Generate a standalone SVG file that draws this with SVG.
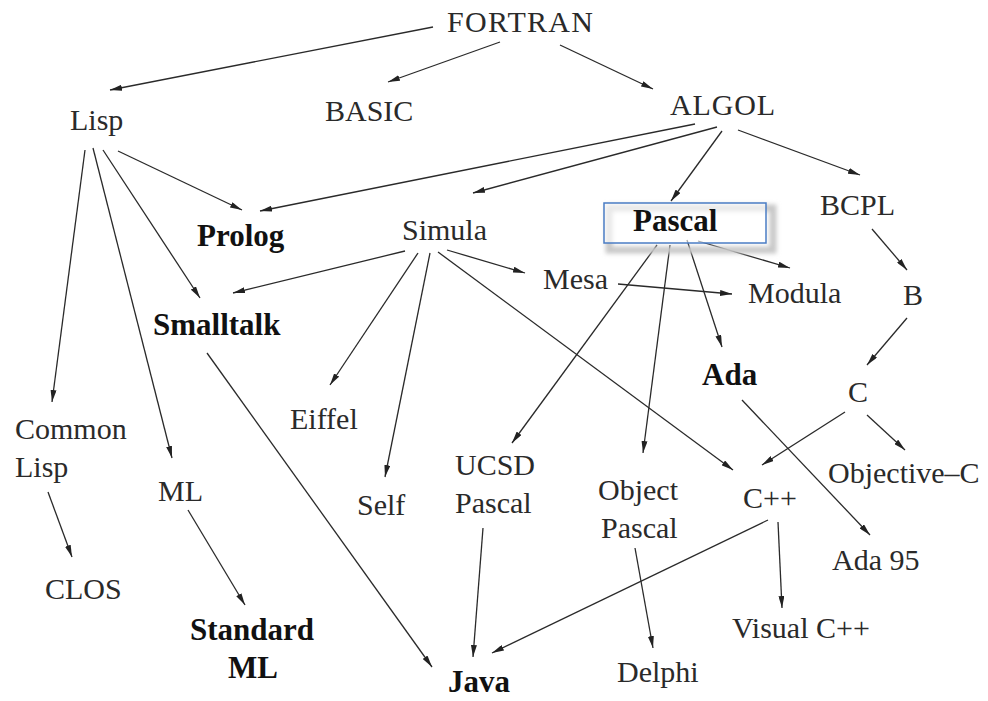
<svg xmlns="http://www.w3.org/2000/svg" width="988" height="701" viewBox="0 0 988 701">
<style>
text{font-family:"Liberation Serif","Times New Roman",serif;font-size:30px;fill:#2a2a2a}
.b{font-weight:bold;fill:#111;font-size:31px}
.e{fill:none;stroke:#2a2a2a;stroke-width:1.3;marker-end:url(#ah)}
</style>
<defs>
<marker id="ah" viewBox="0 0 12 6" refX="12" refY="3" markerWidth="12" markerHeight="6" markerUnits="userSpaceOnUse" orient="auto">
<path d="M0,0 L12,3 L0,6 Z" fill="#222"/>
</marker>
<filter id="sh" x="-20%" y="-50%" width="140%" height="200%"><feGaussianBlur stdDeviation="2"/></filter>
</defs>
<rect width="988" height="701" fill="#fff"/>
<g id="connectors">
<line class="e" x1="433" y1="27" x2="110" y2="90"/>
<line class="e" x1="500" y1="42" x2="388" y2="82"/>
<line class="e" x1="560" y1="45" x2="653" y2="89"/>
<line class="e" x1="695" y1="124" x2="260" y2="211"/>
<line class="e" x1="717" y1="127" x2="473" y2="193"/>
<line class="e" x1="722" y1="131" x2="671" y2="201"/>
<line class="e" x1="738" y1="130" x2="860" y2="175"/>
<line class="e" x1="118" y1="151" x2="242" y2="210"/>
<line class="e" x1="103" y1="150" x2="200" y2="298"/>
<line class="e" x1="85" y1="150" x2="52" y2="402"/>
<line class="e" x1="93" y1="148" x2="172" y2="458"/>
<line class="e" x1="405" y1="251" x2="233" y2="293"/>
<line class="e" x1="418" y1="253" x2="330" y2="385"/>
<line class="e" x1="430" y1="253" x2="385" y2="477"/>
<line class="e" x1="447" y1="250" x2="525" y2="273"/>
<line class="e" x1="438" y1="252" x2="733" y2="470"/>
<line class="e" x1="698" y1="241" x2="790" y2="268"/>
<line class="e" x1="618" y1="284" x2="732" y2="294"/>
<line class="e" x1="657" y1="245" x2="512" y2="443"/>
<line class="e" x1="670" y1="245" x2="643" y2="453"/>
<line class="e" x1="687" y1="240" x2="722" y2="347"/>
<line class="e" x1="872" y1="229" x2="907" y2="270"/>
<line class="e" x1="907" y1="318" x2="867" y2="365"/>
<line class="e" x1="845" y1="412" x2="762" y2="465"/>
<line class="e" x1="867" y1="415" x2="905" y2="450"/>
<line class="e" x1="742" y1="400" x2="870" y2="535"/>
<line class="e" x1="778" y1="522" x2="782" y2="608"/>
<line class="e" x1="768" y1="520" x2="492" y2="653"/>
<line class="e" x1="483" y1="528" x2="473" y2="657"/>
<line class="e" x1="207" y1="353" x2="432" y2="667"/>
<line class="e" x1="635" y1="548" x2="653" y2="648"/>
<line class="e" x1="188" y1="510" x2="245" y2="605"/>
<line class="e" x1="48" y1="492" x2="72" y2="557"/>
</g>
<g id="FORTRAN"><text x="447" y="32" textLength="146">FORTRAN</text></g>
<g id="Lisp"><text x="70" y="130">Lisp</text></g>
<g id="BASIC"><text x="325" y="121">BASIC</text></g>
<g id="ALGOL"><text x="670" y="115" textLength="105">ALGOL</text></g>
<g id="Prolog"><text class="b" x="197" y="246">Prolog</text></g>
<g id="Simula"><text x="402" y="240">Simula</text></g>
<g id="Pascal">
<rect x="609" y="208" width="164" height="42" fill="none" stroke="#c8c8c8" stroke-width="7" filter="url(#sh)"/>
<rect x="604" y="203" width="162" height="40" fill="#fff" fill-opacity="0.6" stroke="#4a7cc4" stroke-width="1.5"/>
<text class="b" x="633" y="231">Pascal</text>
</g>
<g id="BCPL"><text x="820" y="215">BCPL</text></g>
<g id="Mesa"><text x="543" y="289">Mesa</text></g>
<g id="Modula"><text x="748" y="303">Modula</text></g>
<g id="B"><text x="903" y="305">B</text></g>
<g id="Smalltalk"><text class="b" x="153" y="335">Smalltalk</text></g>
<g id="Ada"><text class="b" x="702" y="385">Ada</text></g>
<g id="C"><text x="848" y="402">C</text></g>
<g id="CommonLisp"><text x="15" y="439">Common</text><text x="15" y="477">Lisp</text></g>
<g id="Eiffel"><text x="290" y="429">Eiffel</text></g>
<g id="ML"><text x="158" y="501">ML</text></g>
<g id="Self"><text x="357" y="515">Self</text></g>
<g id="UCSDPascal"><text x="455" y="475">UCSD</text><text x="455" y="513">Pascal</text></g>
<g id="ObjectPascal"><text x="598" y="500">Object</text><text x="601" y="538">Pascal</text></g>
<g id="Cpp"><text x="743" y="508">C++</text></g>
<g id="ObjectiveC"><text x="828" y="483">Objective–C</text></g>
<g id="Ada95"><text x="832" y="570">Ada 95</text></g>
<g id="CLOS"><text x="45" y="599">CLOS</text></g>
<g id="StandardML"><text class="b" x="190" y="640">Standard</text><text class="b" x="228" y="678">ML</text></g>
<g id="Java"><text class="b" x="448" y="692">Java</text></g>
<g id="Delphi"><text x="617" y="682">Delphi</text></g>
<g id="VisualCpp"><text x="732" y="638">Visual C++</text></g>
</svg>
